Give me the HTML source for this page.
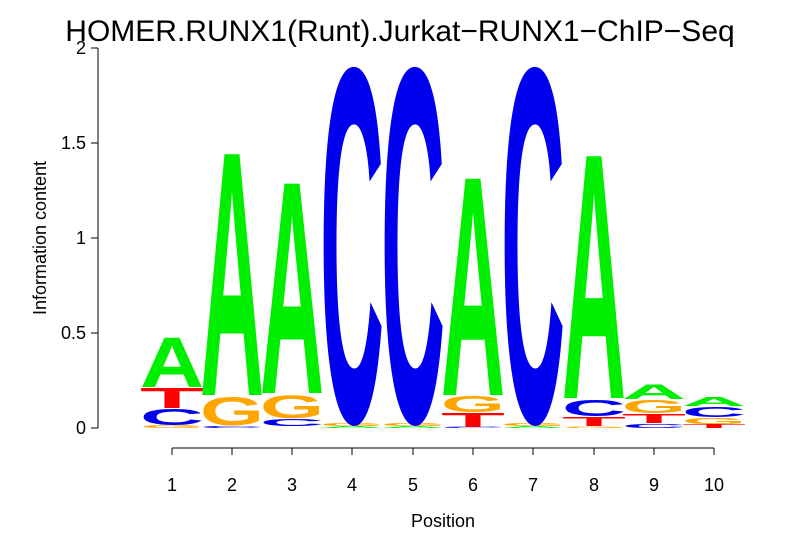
<!DOCTYPE html>
<html><head><meta charset="utf-8"><style>body{margin:0;background:#fff}svg{display:block}</style></head><body>
<svg width="806" height="559" xmlns="http://www.w3.org/2000/svg" font-family="Liberation Sans, sans-serif">
<rect width="806" height="559" fill="#fff"/>
<text x="400" y="41" font-size="30" text-anchor="middle">HOMER.RUNX1(Runt).Jurkat−RUNX1−ChIP−Seq</text>
<g stroke="#000" stroke-width="1" fill="none">
<line x1="98" y1="48" x2="98" y2="428"/>
<line x1="91" y1="428" x2="98" y2="428"/><line x1="91" y1="333" x2="98" y2="333"/><line x1="91" y1="238" x2="98" y2="238"/><line x1="91" y1="143" x2="98" y2="143"/><line x1="91" y1="48" x2="98" y2="48"/>
<line x1="172" y1="448" x2="714" y2="448"/>
<line x1="172" y1="448" x2="172" y2="455"/><line x1="232" y1="448" x2="232" y2="455"/><line x1="292" y1="448" x2="292" y2="455"/><line x1="352" y1="448" x2="352" y2="455"/><line x1="413" y1="448" x2="413" y2="455"/><line x1="473" y1="448" x2="473" y2="455"/><line x1="533" y1="448" x2="533" y2="455"/><line x1="594" y1="448" x2="594" y2="455"/><line x1="654" y1="448" x2="654" y2="455"/><line x1="714" y1="448" x2="714" y2="455"/>
</g>
<g font-size="18" text-anchor="end">
<text x="86" y="434">0</text><text x="86" y="339">0.5</text><text x="86" y="244">1</text><text x="86" y="149">1.5</text><text x="86" y="54">2</text>
</g>
<g font-size="18" text-anchor="middle">
<text x="172" y="491">1</text><text x="232" y="491">2</text><text x="292" y="491">3</text><text x="352" y="491">4</text><text x="413" y="491">5</text><text x="473" y="491">6</text><text x="533" y="491">7</text><text x="594" y="491">8</text><text x="654" y="491">9</text><text x="714" y="491">10</text>
<text x="443" y="527">Position</text>
<text transform="translate(46,238) rotate(-90)">Information content</text>
</g>
<g font-weight="bold" font-size="100">
<text transform="translate(140,428) scale(1,.0429)" textLength="64" lengthAdjust="spacingAndGlyphs" fill="#ffa500">G</text>
<text transform="translate(140,425) scale(1,.2286)" textLength="64" lengthAdjust="spacingAndGlyphs" fill="#0000ee">C</text>
<text transform="translate(140,408) scale(1,.2857)" textLength="64" lengthAdjust="spacingAndGlyphs" fill="#ff0000">T</text>
<text transform="translate(140,387) scale(1,.7143)" textLength="64" lengthAdjust="spacingAndGlyphs" fill="#00ee00">A</text>

<text transform="translate(200,428) scale(1,.0286)" textLength="64" lengthAdjust="spacingAndGlyphs" fill="#0000ee">C</text>
<text transform="translate(200,425) scale(1,.4)" textLength="64" lengthAdjust="spacingAndGlyphs" fill="#ffa500">G</text>
<text transform="translate(200,395) scale(1,3.5)" textLength="64" lengthAdjust="spacingAndGlyphs" fill="#00ee00">A</text>

<text transform="translate(260,426) scale(1,.1)" textLength="64" lengthAdjust="spacingAndGlyphs" fill="#0000ee">C</text>
<text transform="translate(260,418) scale(1,.3286)" textLength="64" lengthAdjust="spacingAndGlyphs" fill="#ffa500">G</text>
<text transform="translate(260,393) scale(1,3.0429)" textLength="64" lengthAdjust="spacingAndGlyphs" fill="#00ee00">A</text>

<text transform="translate(320,428) scale(1,.0286)" textLength="64" lengthAdjust="spacingAndGlyphs" fill="#00ee00">A</text>
<text transform="translate(320,426) scale(1,.0429)" textLength="64" lengthAdjust="spacingAndGlyphs" fill="#ffa500">G</text>
<text transform="translate(320,421) scale(1,5.0714)" textLength="64" lengthAdjust="spacingAndGlyphs" fill="#0000ee">C</text>

<text transform="translate(381,428) scale(1,.0286)" textLength="64" lengthAdjust="spacingAndGlyphs" fill="#00ee00">A</text>
<text transform="translate(381,426) scale(1,.0429)" textLength="64" lengthAdjust="spacingAndGlyphs" fill="#ffa500">G</text>
<text transform="translate(381,421) scale(1,5.0714)" textLength="64" lengthAdjust="spacingAndGlyphs" fill="#0000ee">C</text>

<text transform="translate(441,428) scale(1,.0143)" textLength="64" lengthAdjust="spacingAndGlyphs" fill="#0000ee">C</text>
<text transform="translate(441,427) scale(1,.2)" textLength="64" lengthAdjust="spacingAndGlyphs" fill="#ff0000">T</text>
<text transform="translate(441,412) scale(1,.2286)" textLength="64" lengthAdjust="spacingAndGlyphs" fill="#ffa500">G</text>
<text transform="translate(441,395) scale(1,3.1429)" textLength="64" lengthAdjust="spacingAndGlyphs" fill="#00ee00">A</text>

<text transform="translate(501,428) scale(1,.0286)" textLength="64" lengthAdjust="spacingAndGlyphs" fill="#00ee00">A</text>
<text transform="translate(501,426) scale(1,.0429)" textLength="64" lengthAdjust="spacingAndGlyphs" fill="#ffa500">G</text>
<text transform="translate(501,421) scale(1,5.0714)" textLength="64" lengthAdjust="spacingAndGlyphs" fill="#0000ee">C</text>

<text transform="translate(562,428) scale(1,.0143)" textLength="64" lengthAdjust="spacingAndGlyphs" fill="#ffa500">G</text>
<text transform="translate(562,426) scale(1,.1286)" textLength="64" lengthAdjust="spacingAndGlyphs" fill="#ff0000">T</text>
<text transform="translate(562,416) scale(1,.2286)" textLength="64" lengthAdjust="spacingAndGlyphs" fill="#0000ee">C</text>
<text transform="translate(562,398) scale(1,3.5143)" textLength="64" lengthAdjust="spacingAndGlyphs" fill="#00ee00">A</text>

<text transform="translate(622,428) scale(1,.0571)" textLength="64" lengthAdjust="spacingAndGlyphs" fill="#0000ee">C</text>
<text transform="translate(622,423) scale(1,.1286)" textLength="64" lengthAdjust="spacingAndGlyphs" fill="#ff0000">T</text>
<text transform="translate(622,413) scale(1,.1857)" textLength="64" lengthAdjust="spacingAndGlyphs" fill="#ffa500">G</text>
<text transform="translate(622,399) scale(1,.2143)" textLength="64" lengthAdjust="spacingAndGlyphs" fill="#00ee00">A</text>

<text transform="translate(682,428) scale(1,.0571)" textLength="64" lengthAdjust="spacingAndGlyphs" fill="#ff0000">T</text>
<text transform="translate(682,424) scale(1,.0857)" textLength="64" lengthAdjust="spacingAndGlyphs" fill="#ffa500">G</text>
<text transform="translate(682,417) scale(1,.1429)" textLength="64" lengthAdjust="spacingAndGlyphs" fill="#0000ee">C</text>
<text transform="translate(682,406) scale(1,.1286)" textLength="64" lengthAdjust="spacingAndGlyphs" fill="#00ee00">A</text>
</g>
</svg>
</body></html>
